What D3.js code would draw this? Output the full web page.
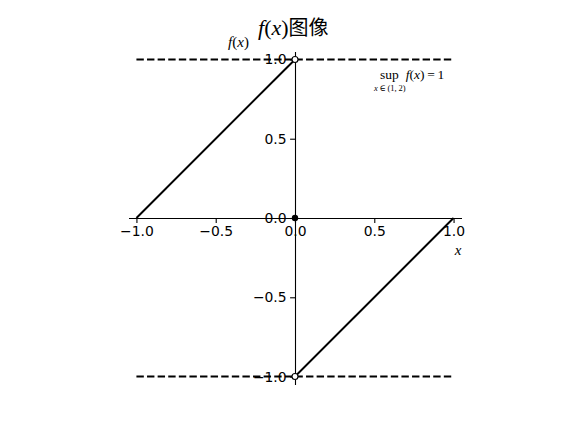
<!DOCTYPE html>
<html><head><meta charset="utf-8">
<script src="https://cdn.jsdelivr.net/npm/d3@7"></script>
<style>body{margin:0;background:#fff}</style>
</head><body>
<svg id="c" width="576" height="432"></svg>
<script>
const xTicks = [-1.0, -0.5, 0.0, 0.5, 1.0];
const yTicks = [-1.0, -0.5, 0.0, 0.5, 1.0];
const seg1 = [[-1, 0], [0, 1]];
const seg2 = [[0, -1], [1, 0]];
const supLines = [1, -1];
const openPts = [[0, 1], [0, -1]];
const filledPts = [[0, 0]];

const svg = d3.select("#c");
const x = d3.scaleLinear().domain([-1.05, 1.05]).range([128.5, 461.5]);
const y = d3.scaleLinear().domain([-1.05, 1.05]).range([384.5, 51.5]);
const fmt = d => d.toFixed(1).replace("-", "\u2212");

// dashed lines
supLines.forEach(v => {
  svg.append("line").attr("x1", x(-1)).attr("x2", x(1)).attr("y1", y(v)).attr("y2", y(v))
    .attr("stroke", "#000").attr("stroke-width", 2).attr("stroke-dasharray", "7.4,3.2");
});
// function segments
const line = d3.line().x(d => x(d[0])).y(d => y(d[1]));
[seg1, seg2].forEach(s => svg.append("path").attr("d", line(s)).attr("fill", "none")
  .attr("stroke", "#000").attr("stroke-width", 2));

// axes (centered spines)
const xa = svg.append("g").attr("transform", `translate(0,${y(0)})`)
  .call(d3.axisBottom(x).tickValues(xTicks).tickFormat(fmt).tickSize(4.9).tickSizeOuter(0).tickPadding(3.5));
const ya = svg.append("g").attr("transform", `translate(${x(0)},0)`)
  .call(d3.axisLeft(y).tickValues(yTicks).tickFormat(fmt).tickSize(4.9).tickSizeOuter(0).tickPadding(3.5));
[xa, ya].forEach(a => {
  a.selectAll("text").attr("font-family", "'DejaVu Sans'").attr("font-size", 13.9).attr("fill", "#000");
  a.select(".domain").attr("stroke", "#000").attr("stroke-width", 1.1);
  a.selectAll(".tick line").attr("stroke", "#000").attr("stroke-width", 1.1);
});

// points
openPts.forEach(p => svg.append("circle").attr("cx", x(p[0])).attr("cy", y(p[1])).attr("r", 3)
  .attr("fill", "#fff").attr("stroke", "#000").attr("stroke-width", 1.1));
filledPts.forEach(p => svg.append("circle").attr("cx", x(p[0])).attr("cy", y(p[1])).attr("r", 3.2)
  .attr("fill", "#000"));

// texts
const serif = "'Liberation Serif', 'DejaVu Serif', serif";
const t = svg.append("text").attr("x", 258).attr("y", 35).attr("text-anchor", "start").attr("font-size", 22);
t.append("tspan").attr("font-family", serif).attr("font-style", "italic").text("f");
t.append("tspan").attr("font-family", serif).text("(");
t.append("tspan").attr("font-family", serif).attr("font-style", "italic").text("x");
t.append("tspan").attr("font-family", serif).text(")");
t.append("tspan").attr("font-family", "'Noto Sans CJK SC'").attr("font-size", 20).text("图像");

const yl = svg.append("text").attr("x", 238.5).attr("y", 47).attr("text-anchor", "middle").attr("font-size", 15).attr("font-family", serif);
yl.append("tspan").attr("font-style", "italic").text("f");
yl.append("tspan").text("(");
yl.append("tspan").attr("font-style", "italic").text("x");
yl.append("tspan").text(")");

svg.append("text").attr("x", 458).attr("y", 255).attr("text-anchor", "middle").attr("font-size", 15)
  .attr("font-family", serif).attr("font-style", "italic").text("x");

const an = svg.append("text").attr("x", 380).attr("y", 79).attr("font-size", 13.5).attr("font-family", serif);
an.append("tspan").text("sup");
an.append("tspan").attr("dx", 7).attr("font-style", "italic").text("f");
an.append("tspan").text("(");
an.append("tspan").attr("font-style", "italic").text("x");
an.append("tspan").text(")\u2009=\u20091");
const sb = svg.append("text").attr("x", 374).attr("y", 91).attr("font-size", 8.5).attr("font-family", serif);
sb.append("tspan").attr("font-style", "italic").text("x");
sb.append("tspan").text("\u2009\u2208\u2009(1,\u20092)");
</script>
</body></html>
